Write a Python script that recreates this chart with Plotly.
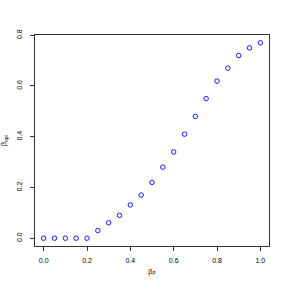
import plotly.graph_objects as go

beta_p = [0.0, 0.05, 0.1, 0.15, 0.2, 0.25, 0.3, 0.35, 0.4, 0.45, 0.5,
          0.55, 0.6, 0.65, 0.7, 0.75, 0.8, 0.85, 0.9, 0.95, 1.0]
beta_opt = [0.0, 0.0, 0.0, 0.0, 0.0, 0.03, 0.061, 0.09, 0.131, 0.17, 0.22,
            0.28, 0.34, 0.41, 0.48, 0.55, 0.619, 0.67, 0.72, 0.75, 0.77]

x_ticks = [0.0, 0.2, 0.4, 0.6, 0.8, 1.0]
x_ticklabels = ["0.0", "0.2", "0.4", "0.6", "0.8", "1.0"]
y_ticks = [0.0, 0.2, 0.4, 0.6, 0.8]
y_ticklabels = ["0.0", "0.2", "0.4", "0.6", "0.8"]

fig = go.Figure()
fig.add_trace(go.Scatter(
    x=beta_p, y=beta_opt, mode="markers",
    marker=dict(symbol="circle-open", size=4.5, color="#0000ff", line=dict(width=0.9, color="#0000ff")),
    showlegend=False,
))

font = dict(family="Liberation Sans, Arial, sans-serif", size=7, color="#000000")

fig.update_layout(
    width=287, height=289,
    margin=dict(l=34.5, r=17.5, t=34.5, b=43),
    paper_bgcolor="white", plot_bgcolor="white",
    font=font,
    xaxis=dict(
        range=[-0.04, 1.04], tickmode="array", tickvals=x_ticks, ticktext=x_ticklabels,
        showgrid=False, zeroline=False, showline=True, linecolor="#333333", linewidth=1,
        mirror=True, ticks="outside", ticklen=4, tickcolor="#333333", tickwidth=1,
        ticklabelstandoff=4, automargin=False, tickfont=font,
        title=dict(text="β<sub>P</sub>", font=font, standoff=5),
    ),
    yaxis=dict(
        range=[-0.0308, 0.8008], tickmode="array", tickvals=y_ticks, ticktext=y_ticklabels,
        showgrid=False, zeroline=False, showline=True, linecolor="#333333", linewidth=1,
        mirror=True, ticks="outside", ticklen=4, tickcolor="#333333", tickwidth=1,
        tickangle=-90, ticklabelstandoff=5, automargin=False, tickfont=font,
        title=dict(text="β<sub>opt</sub>", font=font, standoff=8),
    ),
)

fig.write_html(
    "out.html",
    config={"displayModeBar": False},
    post_script="document.body.style.margin='0';document.body.style.overflow='hidden';",
)
